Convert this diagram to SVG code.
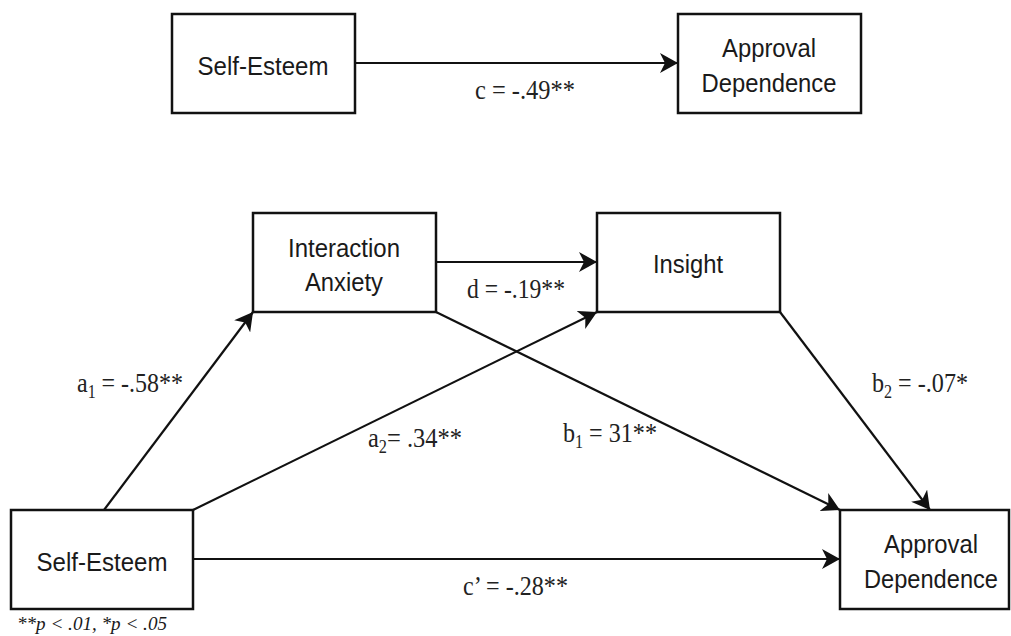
<svg xmlns="http://www.w3.org/2000/svg" width="1011" height="636" viewBox="0 0 1011 636">
<style>
.box{fill:#fff;stroke:#111;stroke-width:2.5}
.nt{font-family:"Liberation Sans",Arial,sans-serif;font-size:25px;fill:#1a1a1a;text-anchor:middle}
.lb{font-family:"Liberation Serif","Times New Roman",serif;font-size:27px;fill:#222}
.sub{font-size:18px}
.edge{fill:none;stroke:#111;stroke-width:2.2}
.fn{font-family:"Liberation Serif","Times New Roman",serif;font-style:italic;font-size:18px;fill:#1a1a1a}
</style>
<defs>
<marker id="ah" markerUnits="userSpaceOnUse" markerWidth="20" markerHeight="20" refX="18" refY="10" orient="auto">
<path d="M0,0 L18,10 L0,20 L5,10 Z" fill="#111"/>
</marker>
</defs>
<rect width="1011" height="636" fill="#fff"/>
<g id="connectors">
<line class="edge" x1="355" y1="63" x2="678" y2="63" marker-end="url(#ah)"/>
<line class="edge" x1="436" y1="262" x2="597" y2="262" marker-end="url(#ah)"/>
<line class="edge" x1="104" y1="510" x2="253" y2="312" marker-end="url(#ah)"/>
<line class="edge" x1="193" y1="510" x2="597" y2="312" marker-end="url(#ah)"/>
<line class="edge" x1="436" y1="312" x2="840" y2="510" marker-end="url(#ah)"/>
<line class="edge" x1="780" y1="312" x2="930" y2="510" marker-end="url(#ah)"/>
<line class="edge" x1="193" y1="559" x2="840" y2="559" marker-end="url(#ah)"/>
</g>
<g id="labels">
<text class="lb" x="475" y="99" textLength="100" lengthAdjust="spacingAndGlyphs">c = -.49**</text>
<text class="lb" x="467" y="298" textLength="98" lengthAdjust="spacingAndGlyphs">d = -.19**</text>
<text class="lb" x="77" y="392" textLength="106" lengthAdjust="spacingAndGlyphs">a<tspan class="sub" dy="6">1</tspan><tspan dy="-6"> = -.58**</tspan></text>
<text class="lb" x="368" y="447" textLength="94" lengthAdjust="spacingAndGlyphs">a<tspan class="sub" dy="6">2</tspan><tspan dy="-6">= .34**</tspan></text>
<text class="lb" x="563" y="442" textLength="94" lengthAdjust="spacingAndGlyphs">b<tspan class="sub" dy="6">1</tspan><tspan dy="-6"> = 31**</tspan></text>
<text class="lb" x="872" y="392" textLength="96" lengthAdjust="spacingAndGlyphs">b<tspan class="sub" dy="6">2</tspan><tspan dy="-6"> = -.07*</tspan></text>
<text class="lb" x="463" y="595" textLength="105" lengthAdjust="spacingAndGlyphs">c’ = -.28**</text>
<text class="fn" x="17" y="630" textLength="150" lengthAdjust="spacingAndGlyphs">**p &lt; .01, *p &lt; .05</text>
</g>
<g id="se-top">
<rect class="box" x="172" y="14" width="183" height="99"/>
<text class="nt" x="263" y="75" textLength="131" lengthAdjust="spacingAndGlyphs">Self-Esteem</text>
</g>
<g id="ad-top">
<rect class="box" x="678" y="14" width="183" height="99"/>
<text class="nt" x="769" y="57" textLength="94" lengthAdjust="spacingAndGlyphs">Approval</text>
<text class="nt" x="769" y="92" textLength="135" lengthAdjust="spacingAndGlyphs">Dependence</text>
</g>
<g id="interaction-anxiety">
<rect class="box" x="253" y="213" width="183" height="99"/>
<text class="nt" x="344" y="257" textLength="112" lengthAdjust="spacingAndGlyphs">Interaction</text>
<text class="nt" x="344" y="291" textLength="78" lengthAdjust="spacingAndGlyphs">Anxiety</text>
</g>
<g id="insight">
<rect class="box" x="597" y="213" width="183" height="99"/>
<text class="nt" x="688" y="273" textLength="70" lengthAdjust="spacingAndGlyphs">Insight</text>
</g>
<g id="se-bottom">
<rect class="box" x="11" y="510" width="182" height="99"/>
<text class="nt" x="102" y="571" textLength="131" lengthAdjust="spacingAndGlyphs">Self-Esteem</text>
</g>
<g id="ad-bottom">
<rect class="box" x="840" y="510" width="169" height="99"/>
<text class="nt" x="931" y="553" textLength="94" lengthAdjust="spacingAndGlyphs">Approval</text>
<text class="nt" x="931" y="588" textLength="134" lengthAdjust="spacingAndGlyphs">Dependence</text>
</g>
</svg>
